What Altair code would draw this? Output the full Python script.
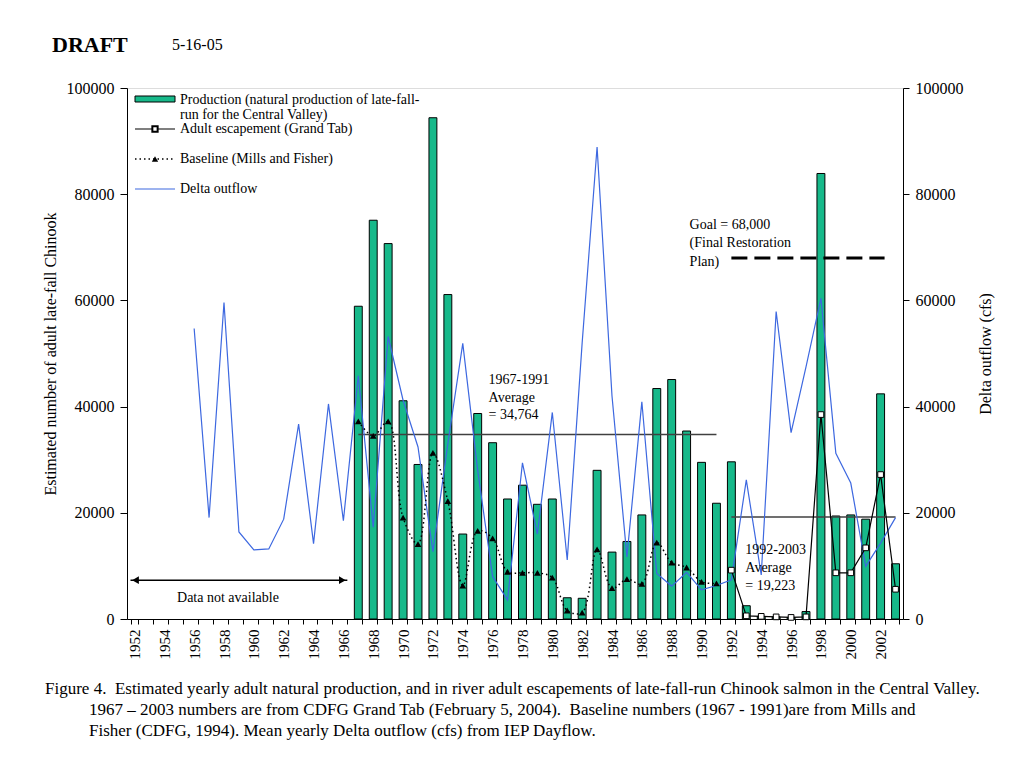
import altair as alt
import pandas as pd

# ---------------- data ----------------
years = [str(y) for y in range(1952, 2004)]

prod_years = [str(y) for y in range(1967, 2004)]
production = [58900, 75100, 70700, 41100, 29100, 94400, 61100, 16000, 38700, 33200,
              22600, 25200, 21600, 22600, 4000, 3900, 28000, 12600, 14600, 19600,
              43400, 45100, 35400, 29500, 21800, 29600, 2500, 500, 400, 300,
              1400, 83900, 19400, 19600, 18800, 42400, 10400]

esc_years = [str(y) for y in range(1992, 2004)]
escapement = [9200, 600, 500, 400, 300, 400, 38500, 8700, 8700, 13400, 27200, 5600]

base_years = [str(y) for y in range(1967, 1992)]
baseline = [37200, 34500, 37200, 19100, 14100, 31300, 22200, 6300, 16600, 15200,
            8900, 8700, 8700, 7800, 1600, 1200, 13100, 5800, 7500, 6600,
            14400, 10600, 9700, 7000, 6700]

flow_years = [str(y) for y in range(1956, 2004)]
outflow = [54700, 19100, 59600, 16400, 13000, 13200, 18800, 36700, 14200, 40500,
           18500, 45800, 17300, 53200, 41200, 32400, 12700, 33000, 51900, 28000,
           8000, 3600, 29400, 16000, 38900, 11100, 52000, 88900, 42000, 11700,
           40900, 8600, 6200, 8800, 5500, 6300, 7400, 26200, 8300, 57900,
           35100, 47500, 60400, 31200, 25600, 9900, 14300, 19100]

avg_start = ["1967", "1992"]
avg_end = ["1991", "2003"]
avg_value = [34764, 19223]

goal_value = [68000]

ann1_texts = ["1967-1991", "Average", " = 34,764"]
ann1_values = [45000, 41600, 38400]
ann2_texts = ["Goal = 68,000", "(Final Restoration", "Plan)"]
ann2_values = [74200, 70800, 67300]
ann3_texts = ["1992-2003", "Average", "= 19,223"]
ann3_values = [13000, 9600, 6200]

caption = [
    "Figure 4.\u00a0 Estimated yearly adult natural production, and in river adult escapements of late-fall-run Chinook salmon in the Central Valley.",
    "1967 \u2013 2003 numbers are from CDFG Grand Tab (February 5, 2004).\u00a0 Baseline numbers (1967 - 1991)are from Mills and",
    "Fisher (CDFG, 1994). Mean yearly Delta outflow (cfs) from IEP Dayflow.",
]

# ---------------- helpers ----------------
FONT = "Liberation Serif"
GREEN = "#17b98a"
BLUE = "#3d68e0"

xscale = alt.Scale(domain=years, paddingInner=0.47, paddingOuter=0.235)
xaxis = alt.Axis(
    title=None, labelAngle=270, tickBand="extent", labelOverlap=False,
    labelExpr="toNumber(datum.value) % 2 == 0 ? datum.value : ''",
    labelFont=FONT, labelFontSize=15, labelColor="black", labelPadding=5,
    tickColor="black", domainColor="black", tickSize=5,
)
yscale = alt.Scale(domain=[0, 100000], nice=False, zero=True)
yvals = [0, 20000, 40000, 60000, 80000, 100000]


def X(field, **kw):
    return alt.X(field, type="ordinal", scale=xscale, axis=xaxis, **kw)


def Y(field, axis=None):
    return alt.Y(field, type="quantitative", scale=yscale, axis=axis)


left_axis = alt.Axis(
    title="Estimated number of adult late-fall Chinook", values=yvals, format="d",
    grid=False, labelFont=FONT, labelFontSize=16, labelColor="black", labelPadding=6,
    titleFont=FONT, titleFontSize=16, titleFontWeight="normal", titleColor="black",
    titlePadding=8, tickColor="black", domainColor="black", tickSize=7,
)
right_axis = alt.Axis(
    title="Delta outflow (cfs)", orient="right", values=yvals, format="d",
    grid=False, labelFont=FONT, labelFontSize=16, labelColor="black", labelPadding=6,
    titleFont=FONT, titleFontSize=16, titleFontWeight="normal", titleColor="black",
    titlePadding=30, titleAngle=270, tickColor="black", domainColor="black", tickSize=6,
)

prod_df = pd.DataFrame({"year": prod_years, "value": production})
esc_df = pd.DataFrame({"year": esc_years, "value": escapement})
base_df = pd.DataFrame({"year": base_years, "value": baseline})
flow_df = pd.DataFrame({"year": flow_years, "value": outflow})
avg_df = pd.DataFrame({"start": avg_start, "end": avg_end, "value": avg_value})
goal_df = pd.DataFrame({"start": ["1992"], "end": ["2002"], "value": goal_value})
na_df = pd.DataFrame({"start": ["1952"], "end": ["1966"], "value": [7300],
                      "mid": ["1958"], "tv": [4000], "text": ["Data not available"]})

bars = alt.Chart(prod_df).mark_bar(color=GREEN, stroke="black", strokeWidth=1).encode(
    x=X("year"), y=Y("value", left_axis))

avg_lines = alt.Chart(avg_df).mark_rule(color="#404040", strokeWidth=1.5).encode(
    x=X("start"), x2=alt.X2("end"), y=Y("value"))

goal_line = alt.Chart(goal_df).mark_rule(color="black", strokeWidth=3, strokeDash=[16, 7]).encode(
    x=X("start"), x2=alt.X2("end", bandPosition=1), y=Y("value"))

flow_line = alt.Chart(flow_df).mark_line(color=BLUE, strokeWidth=1.2).encode(
    x=X("year"), y=Y("value", right_axis))

base_line = alt.Chart(base_df).mark_line(
    color="black", strokeWidth=1.5, strokeDash=[1.5, 3], interpolate="catmull-rom").encode(
    x=X("year"), y=Y("value"))
base_pts = alt.Chart(base_df).mark_point(
    shape="triangle-up", filled=True, color="black", size=45, opacity=1).encode(
    x=X("year"), y=Y("value"))

esc_line = alt.Chart(esc_df).mark_line(color="black", strokeWidth=1.2).encode(
    x=X("year"), y=Y("value"))
esc_pts = alt.Chart(esc_df).mark_point(
    shape="square", filled=True, fill="white", stroke="black", strokeWidth=1,
    size=32, opacity=1).encode(x=X("year"), y=Y("value"))


def ann_layer(year, values, texts, dx):
    df = pd.DataFrame({"year": [year] * len(values), "value": values, "text": texts})
    return alt.Chart(df).mark_text(
        font=FONT, fontSize=14, align="left", baseline="middle", color="black", dx=dx).encode(
        x=X("year"), y=Y("value"), text="text:N")


ann1 = ann_layer("1976", ann1_values, ann1_texts, -4)
ann2 = ann_layer("1989", ann2_values, ann2_texts, 3)
ann3 = ann_layer("1993", ann3_values, ann3_texts, -1)

na_rule = alt.Chart(na_df).mark_rule(color="black", strokeWidth=1.5).encode(
    x=X("start", bandPosition=0), x2=alt.X2("end", bandPosition=1), y=Y("value"))
na_left = alt.Chart(na_df).mark_point(
    shape="triangle-left", filled=True, color="black", size=60, opacity=1, xOffset=5).encode(
    x=X("start", bandPosition=0), y=Y("value"))
na_right = alt.Chart(na_df).mark_point(
    shape="triangle-right", filled=True, color="black", size=60, opacity=1, xOffset=-5).encode(
    x=X("end", bandPosition=1), y=Y("value"))
na_text = alt.Chart(na_df).mark_text(
    font=FONT, fontSize=14, align="center", baseline="middle", color="black").encode(
    x=X("mid", bandPosition=1), y=Y("tv"), text="text:N")

# ---------------- manual legend (pixel placement) ----------------
one = pd.DataFrame({"k": [0]})


def ptext(txt, x, y, size=14, weight="normal", align="left"):
    return alt.Chart(one).mark_text(
        text=txt, font=FONT, fontSize=size, fontWeight=weight, align=align,
        baseline="middle", color="black").encode(x=alt.value(x), y=alt.value(y))


leg = [
    alt.Chart(one).mark_rect(color=GREEN, stroke="black", strokeWidth=1).encode(
        x=alt.value(8), x2=alt.value(48), y=alt.value(8), y2=alt.value(14)),
    ptext("Production (natural production of late-fall-", 53, 12),
    ptext("run for the Central Valley)", 53, 27),
    alt.Chart(one).mark_rule(color="black", strokeWidth=1.2).encode(
        x=alt.value(8), x2=alt.value(48), y=alt.value(41)),
    alt.Chart(one).mark_point(shape="square", filled=True, fill="white", stroke="black",
                              size=28, opacity=1).encode(x=alt.value(28), y=alt.value(41)),
    ptext("Adult escapement (Grand Tab)", 53, 41),
    alt.Chart(one).mark_rule(color="black", strokeWidth=1.5, strokeDash=[1.5, 3]).encode(
        x=alt.value(8), x2=alt.value(48), y=alt.value(71)),
    alt.Chart(one).mark_point(shape="triangle-up", filled=True, color="black",
                              size=40, opacity=1).encode(x=alt.value(28), y=alt.value(71)),
    ptext("Baseline (Mills and Fisher)", 53, 71),
    alt.Chart(one).mark_rule(color=BLUE, strokeWidth=1.2).encode(
        x=alt.value(8), x2=alt.value(48), y=alt.value(101)),
    ptext("Delta outflow", 53, 101),
]

header = [
    ptext("DRAFT", -75, -43, size=22, weight="bold"),
    ptext("5-16-05", 45, -43, size=16),
]
cap = [
    ptext(caption[0], -82, 601, size=17),
    ptext(caption[1], -38, 622, size=17),
    ptext(caption[2], -38, 643, size=17),
]

chart = alt.layer(
    bars, avg_lines, goal_line, flow_line, base_line, base_pts, esc_line, esc_pts,
    ann1, ann2, ann3, na_rule, na_left, na_right, na_text, *leg, *header, *cap
).resolve_scale(y="independent").properties(
    width=776, height=531,
    autosize=alt.AutoSizeParams(type="none"),
    padding={"left": 119, "top": 80, "right": 113, "bottom": 133},
).configure_view(stroke="black", strokeWidth=1).configure(background="white")

chart.save("out.html", embed_options={"renderer": "svg", "actions": False})
